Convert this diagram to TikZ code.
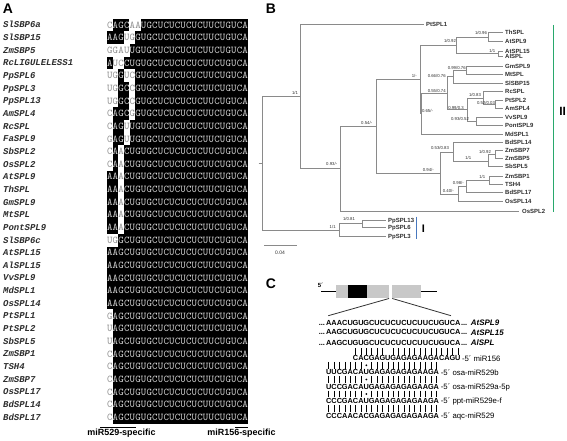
\documentclass[tikz,border=0pt]{standalone}
\usepackage{fontspec}
\setmainfont{Liberation Sans}
\newfontfamily\namefont{Liberation Mono}
\usetikzlibrary{calc}

\definecolor{allight}{HTML}{D6D6D6}
\definecolor{algrey}{HTML}{8C8C8C}
\definecolor{treeline}{HTML}{8A8A8A}
\definecolor{txtdark}{HTML}{2E2E2E}
\definecolor{cladegreen}{RGB}{40,168,108}
\definecolor{cladeblue}{RGB}{72,120,190}
\definecolor{genegrey}{HTML}{C8C8C8}

\tikzset{
 panel/.style={font=\fontsize{14}{14}\selectfont\bfseries, inner sep=0pt},
 spname/.style={font=\namefont\fontsize{9}{9}\selectfont\bfseries\itshape, text=txtdark, anchor=base west, inner sep=0pt},
 alch/.style={font=\ttfamily\fontsize{10.4}{10.4}\selectfont, inner sep=0pt, anchor=base},
 tip/.style={font=\fontsize{6}{6}\selectfont\bfseries, text=txtdark, anchor=base west, inner sep=0pt},
 supp/.style={font=\fontsize{4.3}{4.3}\selectfont, text=txtdark, inner sep=0pt},
 branch/.style={draw=treeline, line width=0.75bp},
 speclab/.style={font=\fontsize{9}{9}\selectfont\bfseries, inner sep=0pt, anchor=base},
 sq/.style={font=\fontsize{7.4}{7.4}\selectfont\bfseries, inner sep=0pt, anchor=base},
 mirlab/.style={font=\fontsize{7.8}{7.8}\selectfont, anchor=base west, inner sep=0pt},
 gname/.style={font=\fontsize{8}{8}\selectfont\bfseries\itshape, anchor=base west, inner sep=0pt},
 pairbar/.style={draw=black, line width=0.6bp},
}

\makeatletter
\newcount\alcol
\newcount\chn
% alignment row: #1 row index, #2 string (lowercase = unshaded cell)
\newcommand\alrow[2]{%
  \pgfmathsetmacro\rowy{25+(#1-1)*12.65}%
  \alcol=0
  \@tfor\ch:=#2\do{%
    \advance\alcol by 1
    \edef\tmp{\noexpand\def\noexpand\CH{\ch}}%
    \uppercase\expandafter{\tmp}%
    \pgfmathsetmacro\cx{107+(\the\alcol-0.5)*5.64}%
    \ifx\ch\CH
      \node[alch,text=allight] (a#1-\the\alcol) at (\cx,\rowy+3.2) {\CH};
    \else
      \fill[white] (\cx-2.95,\rowy-6.5) rectangle (\cx+2.95,\rowy+6.5);
      \node[alch,text=algrey] (a#1-\the\alcol) at (\cx,\rowy+3.2) {\CH};
    \fi
  }%
}
% panel C sequence: #1 start position, #2 centre y, #3 string
\newcommand\cseq[3]{%
  \alcol=#1 \advance\alcol by -1
  \@tfor\ch:=#3\do{%
    \advance\alcol by 1
    \global\advance\chn by 1
    \pgfmathsetmacro\cx{326+(\the\alcol-0.5)*5.38}%
    \node[sq] (q\the\chn) at (\cx,#2+2.65) {\ch};
  }%
}
\makeatother
\newcommand\spn[2]{\node[spname] (n#1) at (3,{25+(#1-1)*12.65+3}) {#2};}
\newcommand\tipn[4]{\coordinate (e#1) at (#2,#3); \node[tip] (t#1) at (#4,#3+2.15) {#1};}

\begin{document}
\begin{tikzpicture}[x=1bp,y=-1bp]
\useasboundingbox (0,0) rectangle (567,441);
\fill[white] (0,0) rectangle (567,441);

%================ Panel A
\node[panel] (labA) at (8,9) {A};
\fill[black] (107,18.675) rectangle (248,423.825);
\alrow{1}{cAGCaaUGCUCUCUCUCUUCUGUCA}
\alrow{2}{AAGugGUGCUCUCUCUCUUCUGUCA}
\alrow{3}{ggauUGUGCUCUCUCUCUUCUGUCA}
\alrow{4}{AucCUGUGCUCUCUCUCUUCUGUCA}
\alrow{5}{ugGucGUGCUCUCUCUCUUCUGUCA}
\alrow{6}{ugGCcGUGCUCUCUCUCUUCUGUCA}
\alrow{7}{ugGCcGUGCUCUCUCUCUUCUGUCA}
\alrow{8}{cAGCgGUGCUCUCUCUCUUCUGUCA}
\alrow{9}{cAGuUGUGCUCUCUCUCUUCUGUCA}
\alrow{10}{gAGuUGUGCUCUCUCUCUUCUGUCA}
\alrow{11}{cAaCUGUGCUCUCUCUCUUCUGUCA}
\alrow{12}{cAaCUGUGCUCUCUCUCUUCUGUCA}
\alrow{13}{AAaCUGUGCUCUCUCUCUUCUGUCA}
\alrow{14}{AAaCUGUGCUCUCUCUCUUCUGUCA}
\alrow{15}{AAaCUGUGCUCUCUCUCUUCUGUCA}
\alrow{16}{AAaCUGUGCUCUCUCUCUUCUGUCA}
\alrow{17}{AAaCUGUGCUCUCUCUCUUCUGUCA}
\alrow{18}{ugGCUGUGCUCUCUCUCUUCUGUCA}
\alrow{19}{AAGCUGUGCUCUCUCUCUUCUGUCA}
\alrow{20}{AAGCUGUGCUCUCUCUCUUCUGUCA}
\alrow{21}{AAGCUGUGCUCUCUCUCUUCUGUCA}
\alrow{22}{AAGCUGUGCUCUCUCUCUUCUGUCA}
\alrow{23}{AAGCUGUGCUCUCUCUCUUCUGUCA}
\alrow{24}{gAGCUGUGCUCUCUCUCUUCUGUCA}
\alrow{25}{uAGCUGUGCUCUCUCUCUUCUGUCA}
\alrow{26}{uAGCUGUGCUCUCUCUCUUCUGUCA}
\alrow{27}{cAGCUGUGCUCUCUCUCUUCUGUCA}
\alrow{28}{cAGCUGUGCUCUCUCUCUUCUGUCA}
\alrow{29}{cAGCUGUGCUCUCUCUCUUCUGUCA}
\alrow{30}{cAGCUGUGCUCUCUCUCUUCUGUCA}
\alrow{31}{cAGCUGUGCUCUCUCUCUUCUGUCA}
\alrow{32}{cAGCUGUGCUCUCUCUCUUCUGUCA}

\spn{1}{SlSBP6a}
\spn{2}{SlSBP15}
\spn{3}{ZmSBP5}
\spn{4}{RcLIGULELESS1}
\spn{5}{PpSPL6}
\spn{6}{PpSPL3}
\spn{7}{PpSPL13}
\spn{8}{AmSPL4}
\spn{9}{RcSPL}
\spn{10}{FaSPL9}
\spn{11}{SbSPL2}
\spn{12}{OsSPL2}
\spn{13}{AtSPL9}
\spn{14}{ThSPL}
\spn{15}{GmSPL9}
\spn{16}{MtSPL}
\spn{17}{PontSPL9}
\spn{18}{SlSBP6c}
\spn{19}{AtSPL15}
\spn{20}{AlSPL15}
\spn{21}{VvSPL9}
\spn{22}{MdSPL1}
\spn{23}{OsSPL14}
\spn{24}{PtSPL1}
\spn{25}{PtSPL2}
\spn{26}{SbSPL5}
\spn{27}{ZmSBP1}
\spn{28}{TSH4}
\spn{29}{ZmSBP7}
\spn{30}{OsSPL17}
\spn{31}{BdSPL14}
\spn{32}{BdSPL17}

\node[speclab] (s529) at (121.5,435.2) {miR529-specific};
\node[speclab] (s156) at (241.5,435.2) {miR156-specific};
\draw[line width=0.9bp] (100,427.6) -- (136,427.6);
\draw[line width=0.9bp] (235,427.6) -- (248.3,427.6);

%================ Panel B
\node[panel] (labB) at (271,8.5) {B};
% internal nodes
\coordinate (Root) at (262,163.3);
\coordinate (Rs) at (258.5,163.3);
\coordinate (A) at (300,96.65);
\coordinate (B) at (340.7,168.6);
\coordinate (C) at (376,126.3);
\coordinate (D) at (420,79.6);
\coordinate (E) at (456.7,45.4);
\coordinate (F) at (488.3,37.0);
\coordinate (G) at (498.3,53.85);
\coordinate (H) at (421.7,113.65);
\coordinate (I) at (447.7,93.25);
\coordinate (J) at (453.3,76.8);
\coordinate (K) at (466.7,70.35);
\coordinate (L) at (467.7,109.7);
\coordinate (M) at (483.3,97.9);
\coordinate (N) at (495.7,104.15);
\coordinate (O) at (476.7,121.5);
\coordinate (P) at (440,173.0);
\coordinate (Q) at (453.3,152.0);
\coordinate (R) at (488.3,161.0);
\coordinate (S) at (495,154.6);
\coordinate (T) at (458.3,194.1);
\coordinate (U) at (466,186.45);
\coordinate (V) at (489,180.15);
\coordinate (CI) at (339,229.9);
\coordinate (W) at (362.3,223.85);
% tips
\tipn{PtSPL1}{424}{24.7}{426}
\tipn{ThSPL}{503}{32.7}{505}
\tipn{AtSPL9}{503}{41.3}{505}
\tipn{AtSPL15}{503}{51}{505}
\tipn{AlSPL}{503}{56.7}{505}
\tipn{GmSPL9}{503}{66}{505}
\tipn{MtSPL}{503}{74.7}{505}
\tipn{SlSBP15}{503}{83.3}{505}
\tipn{RcSPL}{503}{91.7}{505}
\tipn{PtSPL2}{503}{100}{505}
\tipn{AmSPL4}{503}{108.3}{505}
\tipn{VvSPL9}{503}{117.3}{505}
\tipn{PontSPL9}{503}{125.7}{505}
\tipn{MdSPL1}{503}{134}{505}
\tipn{BdSPL14}{503}{142.3}{505}
\tipn{ZmSBP7}{503}{150.7}{505}
\tipn{ZmSBP5}{503}{158.5}{505}
\tipn{SbSPL5}{503}{166.7}{505}
\tipn{ZmSBP1}{503}{176}{505}
\tipn{TSH4}{503}{184.3}{505}
\tipn{BdSPL17}{503}{192.7}{505}
\tipn{OsSPL14}{503}{201.7}{505}
\tipn{OsSPL2}{519}{211}{522}
\tipn{PpSPL13}{386}{220}{388}
\tipn{PpSPL6}{386}{227.7}{388}
\tipn{PpSPL3}{386}{236}{388}
% branches
\draw[branch] (Rs) -- (Root);
\draw[branch] (Root) |- (A);
\draw[branch] (Root) |- (CI);
\draw[branch] (A) |- (ePtSPL1);
\draw[branch] (A) |- (B);
\draw[branch] (B) |- (C);
\draw[branch] (B) |- (eOsSPL2);
\draw[branch] (C) |- (D);
\draw[branch] (C) |- (P);
\draw[branch] (D) |- (E);
\draw[branch] (D) |- (H);
\draw[branch] (E) |- (F);
\draw[branch] (E) |- (G);
\draw[branch] (F) |- (eThSPL);
\draw[branch] (F) |- (eAtSPL9);
\draw[branch] (G) |- (eAtSPL15);
\draw[branch] (G) |- (eAlSPL);
\draw[branch] (H) |- (I);
\draw[branch] (H) |- (eMdSPL1);
\draw[branch] (I) |- (J);
\draw[branch] (I) |- (L);
\draw[branch] (J) |- (K);
\draw[branch] (J) |- (eSlSBP15);
\draw[branch] (K) |- (eGmSPL9);
\draw[branch] (K) |- (eMtSPL);
\draw[branch] (L) |- (M);
\draw[branch] (L) |- (O);
\draw[branch] (M) |- (eRcSPL);
\draw[branch] (M) |- (N);
\draw[branch] (N) |- (ePtSPL2);
\draw[branch] (N) |- (eAmSPL4);
\draw[branch] (O) |- (eVvSPL9);
\draw[branch] (O) |- (ePontSPL9);
\draw[branch] (P) |- (Q);
\draw[branch] (P) |- (T);
\draw[branch] (Q) |- (eBdSPL14);
\draw[branch] (Q) |- (R);
\draw[branch] (R) |- (S);
\draw[branch] (R) |- (eSbSPL5);
\draw[branch] (S) |- (eZmSBP7);
\draw[branch] (S) |- (eZmSBP5);
\draw[branch] (T) |- (U);
\draw[branch] (T) |- (eOsSPL14);
\draw[branch] (U) |- (V);
\draw[branch] (U) |- (eBdSPL17);
\draw[branch] (V) |- (eZmSBP1);
\draw[branch] (V) |- (eTSH4);
\draw[branch] (CI) |- (W);
\draw[branch] (CI) |- (ePpSPL3);
\draw[branch] (W) |- (ePpSPL13);
\draw[branch] (W) |- (ePpSPL6);
% support values
\node[supp] (sA) at (295,93.3) {1/1};
\node[supp] (sB) at (331.7,164.3) {0.93/-};
\node[supp] (sC) at (366.7,122.7) {0.54/-};
\node[supp] (sD) at (414.3,75.7) {1/-};
\node[supp] (sE) at (450,41.3) {1/0.92};
\node[supp] (sF) at (481,33.0) {1/0.96};
\node[supp] (sG) at (492.3,51.0) {1/1};
\node[supp] (sH) at (427.5,110.8) {0.65/-};
\node[supp] (sI) at (436.7,90.6) {0.55/0.74};
\node[supp] (sJ) at (436.7,75.7) {0.66/0.76};
\node[supp] (sK) at (456.7,68.0) {0.99/0.76};
\node[supp] (sL) at (456,107.8) {0.99/0.3};
\node[supp] (sM) at (475,94.6) {1/0.83};
\node[supp] (sN) at (486,102.8) {0.52/0.03};
\node[supp] (sO) at (460,118.8) {0.93/0.52};
\node[supp] (sP) at (428.3,169.5) {0.94/-};
\node[supp] (sQ) at (440,148.0) {0.53/0.83};
\node[supp] (sR) at (468.3,158.3) {1/1};
\node[supp] (sS) at (485,151.5) {1/0.92};
\node[supp] (sT) at (448.3,190.6) {0.40/-};
\node[supp] (sU) at (458.3,182.6) {0.98/-};
\node[supp] (sV) at (482.3,177.0) {1/1};
\node[supp] (sCI) at (332.7,226.7) {1/1};
\node[supp] (sW) at (349,219.3) {1/0.81};
% scale bar
\coordinate (sb1) at (264,245.7);
\coordinate (sb2) at (296.7,245.7);
\draw[branch] (sb1) -- (sb2);
\node[font=\fontsize{5}{5}\selectfont, text=txtdark, inner sep=0pt] (sbl) at (280,252.3) {0.04};
% clade bars
\draw[cladegreen, line width=1.2bp] (553.3,25) -- (553.3,211.7);
\node[font=\fontsize{12}{12}\selectfont\bfseries, inner sep=0pt] (cII) at (562.7,111.7) {II};
\draw[cladeblue, line width=1bp] (416,216.7) -- (416,239.3);
\node[font=\fontsize{11}{11}\selectfont\bfseries, inner sep=0pt] (cI) at (423.3,228.3) {I};

%================ Panel C
\node[panel] (labC) at (271,284) {C};
\node[font=\fontsize{6}{6}\selectfont\bfseries, inner sep=0pt] (five) at (320.5,285) {5´};
\draw[line width=1.2bp] (321,291.7) -- (336,291.7);
\draw[line width=1.2bp] (420.7,291.7) -- (436.7,291.7);
\fill[genegrey] (336,285) rectangle (389,297.8);
\fill[black] (347.7,285) rectangle (367.3,297.8);
\fill[genegrey] (392,285) rectangle (420.7,297.8);
\draw[line width=0.8bp, draw=black!80] (389,298.5) -- (328.3,315.7);
\draw[line width=0.8bp, draw=black!80] (392.3,298.5) -- (451,315.7);

\cseq{1}{322.7}{AAACUGUGCUCUCUCUCUUCUGUCA}
\cseq{1}{332.3}{AAGCUGUGCUCUCUCUCUUCUGUCA}
\cseq{1}{342.7}{AAGCUGUGCUCUCUCUCUUCUGUCA}
\node[sq, anchor=base east] (dl1) at (325.2,325.35) {...};
\node[sq, anchor=base east] (dl2) at (325.2,334.95) {...};
\node[sq, anchor=base east] (dl3) at (325.2,345.35) {...};
\node[sq, anchor=base west] (dr1) at (460.8,325.35) {...};
\node[sq, anchor=base west] (dr2) at (460.8,334.95) {...};
\node[sq, anchor=base west] (dr3) at (460.8,345.35) {...};
\node[gname] (g9) at (470.7,325.6) {AtSPL9};
\node[gname] (g15) at (470.7,335.2) {AtSPL15};
\node[gname] (gAl) at (470.7,345.6) {AlSPL};

\cseq{6}{358.3}{CACGAGUGAGAGAAGACAGU}
\cseq{1}{372.3}{UUCGACAUGAGAGAGAGAAGA}
\cseq{1}{386.7}{UCCGACAUGAGAGAGAGAAGA}
\cseq{1}{401}{CCCGACAUGAGAGAGAGAAGA}
\cseq{1}{415.7}{CCCAACACGAGAGAGAGAAGA}
\node[mirlab] (m156) at (461.8,361.1) {-5´ miR156};
\node[mirlab] (m529b) at (440.7,375.1) {-5´ osa-miR529b};
\node[mirlab] (m529a) at (440.7,389.5) {-5´ osa-miR529a-5p};
\node[mirlab] (m529e) at (440.7,403.8) {-5´ ppt-miR529e-f};
\node[mirlab] (maqc) at (440.7,418.5) {-5´ aqc-miR529};

% pairing bars
\foreach \k in {6,7,8,9,10,11,13,14,15,16,17,18,19,20,21,22,23,24,25}
  \draw[pairbar] ({326+(\k-0.5)*5.38},348.4) -- ({326+(\k-0.5)*5.38},355.2);
\foreach \yy in {365.3,379.5,394}{
  \foreach \k in {1,2,3,4,5,6,7,9,10,11,12,13,14,15,16,17,18,19,20,21}
    \draw[pairbar] ({326+(\k-0.5)*5.38},\yy-3.4) -- ({326+(\k-0.5)*5.38},\yy+3.4);
  \fill ({326+7.5*5.38},\yy) circle (0.95bp);
}
\foreach \k in {1,...,21}
  \draw[pairbar] ({326+(\k-0.5)*5.38},404.9) -- ({326+(\k-0.5)*5.38},411.7);
\end{tikzpicture}
\end{document}
